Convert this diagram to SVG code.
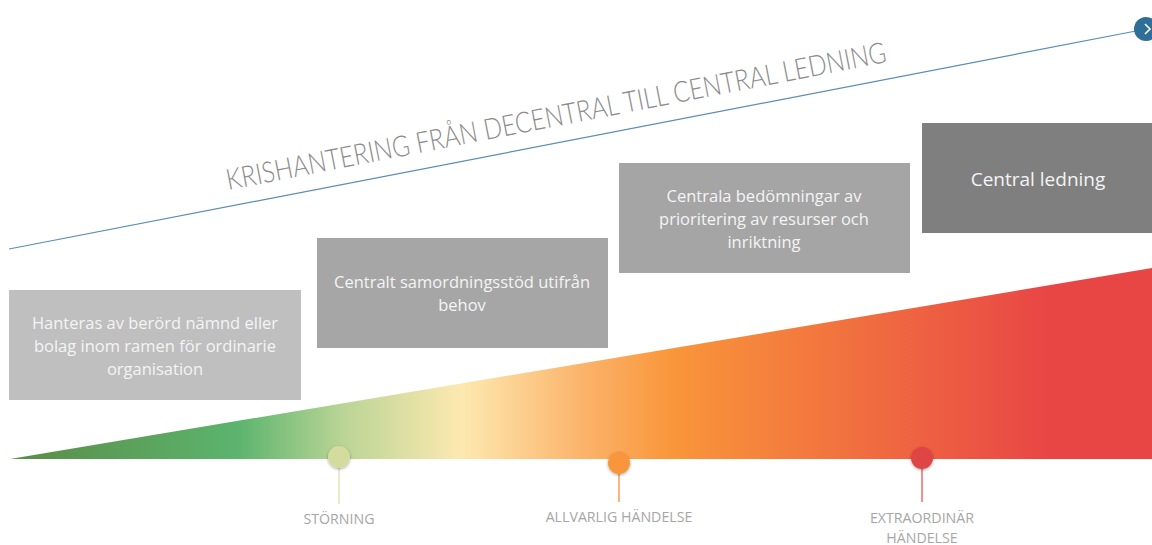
<svg xmlns="http://www.w3.org/2000/svg" width="1152" height="545" viewBox="0 0 1152 545">
<defs>
<linearGradient id="ramp" x1="10" y1="0" x2="1152" y2="0" gradientUnits="userSpaceOnUse">
<stop offset="0" stop-color="#5a8c47"/>
<stop offset="0.2" stop-color="#5cb46e"/>
<stop offset="0.29" stop-color="#b9d495"/>
<stop offset="0.395" stop-color="#fde9b0"/>
<stop offset="0.5" stop-color="#fbb46c"/>
<stop offset="0.58" stop-color="#f9963a"/>
<stop offset="0.914" stop-color="#e84545"/>
<stop offset="1" stop-color="#e84545"/>
</linearGradient>
<filter id="sh" x="-50%" y="-50%" width="200%" height="200%">
<feDropShadow dx="0" dy="1" stdDeviation="1.5" flood-color="#000" flood-opacity="0.35"/>
</filter>
<style>
.box text{font-family:"Open Sans","Liberation Sans",sans-serif;font-size:16.5px;fill:#f4f4f4;text-anchor:middle}
.lbl{font-family:"Open Sans","Liberation Sans",sans-serif;font-size:14.2px;fill:#a6a6a6;text-anchor:middle}
</style>
</defs>
<rect width="1152" height="545" fill="#ffffff"/>
<g id="connectors">
<line x1="9" y1="249" x2="1136" y2="31" stroke="#5b8db5" stroke-width="1.2"/>
</g>
<g id="end-button">
<circle cx="1146" cy="29" r="12" fill="#2f6e96"/>
<path d="M1145 24 L1150 29 L1145 34" fill="none" stroke="#ffffff" stroke-width="1.6"/>
</g>
<g id="title">
<text x="558" y="126" transform="rotate(-11 558 126)" text-anchor="middle" font-family="Lato,'Open Sans','Liberation Sans',sans-serif" font-weight="300" font-size="29" fill="#8c8c8c" textLength="672" lengthAdjust="spacingAndGlyphs">KRISHANTERING FRÅN DECENTRAL TILL CENTRAL LEDNING</text>
</g>
<g id="ramp-shape">
<polygon points="10,459 1152,268 1152,459" fill="url(#ramp)"/>
</g>
<g id="box1" class="box">
<rect x="9" y="290" width="292" height="110" fill="#bfbfbf"/>
<text x="155" y="329">Hanteras av berörd nämnd eller</text>
<text x="155" y="352">bolag inom ramen för ordinarie</text>
<text x="155" y="375">organisation</text>
</g>
<g id="box2" class="box">
<rect x="317" y="238" width="291" height="110" fill="#a6a6a6"/>
<text x="462" y="288">Centralt samordningsstöd utifrån</text>
<text x="462" y="311">behov</text>
</g>
<g id="box3" class="box">
<rect x="619" y="163" width="291" height="110" fill="#a5a5a5"/>
<text x="764" y="202">Centrala bedömningar av</text>
<text x="764" y="225">prioritering av resurser och</text>
<text x="764" y="248">inriktning</text>
</g>
<g id="box4" class="box">
<rect x="922" y="123" width="230" height="110" fill="#7f7f7f"/>
<text x="1038" y="186" style="font-size:19px">Central ledning</text>
</g>
<g id="m1">
<line x1="339" y1="458" x2="339" y2="504" stroke="#dfe6b8" stroke-width="1.5"/>
<circle cx="339" cy="457" r="11" fill="#d3dc9e" filter="url(#sh)"/>
<text class="lbl" x="339" y="524">STÖRNING</text>
</g>
<g id="m2">
<line x1="619" y1="464" x2="619" y2="502" stroke="#f99b50" stroke-width="1.5"/>
<circle cx="619" cy="463" r="11" fill="#f9963a" filter="url(#sh)"/>
<text class="lbl" x="619" y="522">ALLVARLIG HÄNDELSE</text>
</g>
<g id="m3">
<line x1="922" y1="459" x2="922" y2="502" stroke="#ee6b6b" stroke-width="1.5"/>
<circle cx="922" cy="458" r="11" fill="#e04545" filter="url(#sh)"/>
<text class="lbl" x="922" y="523">EXTRAORDINÄR</text>
<text class="lbl" x="922" y="543">HÄNDELSE</text>
</g>
</svg>
